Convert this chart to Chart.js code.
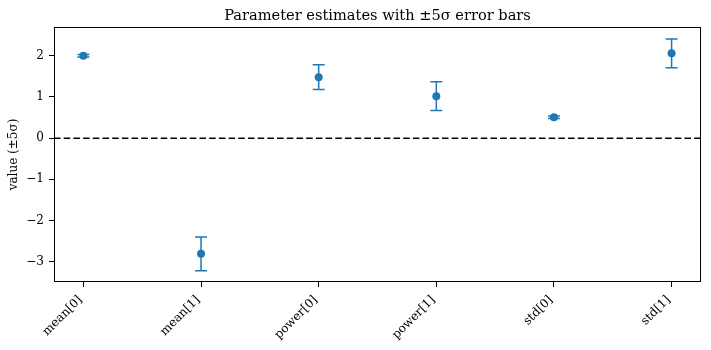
<!DOCTYPE html>
<html>
<head>
<meta charset="utf-8">
<script src="https://cdn.jsdelivr.net/npm/chart.js@4"></script>
<style>
  html, body { margin: 0; padding: 0; background: #fff; }
  #graphique { display: block; }
</style>
</head>
<body>
<canvas id="graphique" width="711" height="350"></canvas>
<script>
// Paramètres estimés et leurs barres d'erreur (±5σ)
const parametres = ["mean[0]", "mean[1]", "power[0]", "power[1]", "std[0]", "std[1]"];
const estimations = [2.00, -2.81, 1.48, 1.02, 0.51, 2.06];
const erreurs5Sigma = [0.03, 0.41, 0.30, 0.35, 0.03, 0.35];
const graduationsY = [-3, -2, -1, 0, 1, 2];
const titre = "Parameter estimates with ±5σ error bars";

const BLEU = "#1f77b4";
const POLICE = "'DejaVu Serif', 'Liberation Serif', serif";

// Barres d'erreur + ligne pointillée à zéro + cadre + titre centré sur la zone de tracé
const pluginErreurs = {
  id: "barresErreur",
  beforeDatasetsDraw(chart) {
    const ctx = chart.ctx;
    const x = chart.scales.x;
    const y = chart.scales.y;
    const zone = chart.chartArea;

    // ligne horizontale à y = 0
    ctx.save();
    ctx.strokeStyle = "#000";
    ctx.lineWidth = 1.5;
    ctx.setLineDash([6.5, 3.2]);
    const y0 = y.getPixelForValue(0);
    ctx.beginPath();
    ctx.moveTo(zone.left, y0);
    ctx.lineTo(zone.right, y0);
    ctx.stroke();
    ctx.restore();

    // tiges et chapeaux
    ctx.save();
    ctx.strokeStyle = BLEU;
    ctx.lineWidth = 1.5;
    for (let i = 0; i < estimations.length; i++) {
      const px = x.getPixelForValue(i);
      const haut = y.getPixelForValue(estimations[i] + erreurs5Sigma[i]);
      const bas = y.getPixelForValue(estimations[i] - erreurs5Sigma[i]);
      ctx.beginPath();
      ctx.moveTo(px, haut);
      ctx.lineTo(px, bas);
      ctx.moveTo(px - 6, haut);
      ctx.lineTo(px + 6, haut);
      ctx.moveTo(px - 6, bas);
      ctx.lineTo(px + 6, bas);
      ctx.stroke();
    }
    ctx.restore();
  },
  afterDraw(chart) {
    const ctx = chart.ctx;
    const zone = chart.chartArea;
    ctx.save();
    ctx.strokeStyle = "#000";
    ctx.lineWidth = 1;
    ctx.strokeRect(zone.left + 0.5, zone.top + 0.5, zone.right - zone.left - 1, zone.bottom - zone.top - 1);

    ctx.fillStyle = "#000";
    ctx.font = "14.6px " + POLICE;
    ctx.textAlign = "center";
    ctx.textBaseline = "alphabetic";
    ctx.fillText(titre, (zone.left + zone.right) / 2, zone.top - 7.5);
    ctx.restore();
  }
};

const donnees = {
  datasets: [{
    type: "scatter",
    label: "estimation",
    data: estimations.map((v, i) => ({ x: i, y: v })),
    backgroundColor: BLEU,
    borderColor: BLEU,
    pointRadius: 4,
    pointHoverRadius: 4,
    borderWidth: 0,
  }],
};

const config = {
  type: "scatter",
  data: donnees,
  plugins: [pluginErreurs],
  options: {
    responsive: false,
    animation: false,
    devicePixelRatio: 1,
    layout: { padding: { left: 7, right: 10, top: 27, bottom: 0 } },
    plugins: {
      legend: { display: false },
      tooltip: { enabled: false },
      title: { display: false },
    },
    scales: {
      x: {
        type: "linear",
        min: -0.25,
        max: 5.25,
        afterBuildTicks: (axe) => { axe.ticks = parametres.map((_, i) => ({ value: i })); },
        afterFit: (axe) => { axe.height = 68; },
        ticks: {
          callback: (v) => parametres[v],
          color: "#000",
          font: { family: POLICE, size: 12 },
          minRotation: 45,
          maxRotation: 45,
          padding: 6,
          labelOffset: -3,
        },
        grid: { drawOnChartArea: false, tickLength: 5, tickColor: "#000", tickWidth: 1 },
        border: { display: false },
      },
      y: {
        type: "linear",
        min: -3.495,
        max: 2.70,
        afterBuildTicks: (axe) => { axe.ticks = graduationsY.map((v) => ({ value: v })); },
        afterFit: (axe) => { axe.width = 47; },
        ticks: {
          callback: (v) => (v < 0 ? "\u2212" + Math.abs(v) : String(v)),
          color: "#000",
          font: { family: POLICE, size: 12 },
          padding: 5,
        },
        grid: { drawOnChartArea: false, tickLength: 5, tickColor: "#000", tickWidth: 1 },
        border: { display: false },
        title: {
          display: true,
          text: "value (±5σ)",
          color: "#000",
          font: { family: POLICE, size: 12 },
          padding: { top: 0, bottom: 0 },
        },
      },
    },
  },
};

new Chart(document.querySelector("#graphique"), config);
</script>
</body>
</html>
